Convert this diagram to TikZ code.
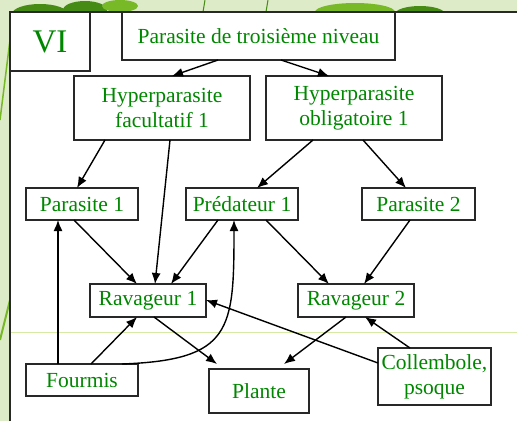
\documentclass[tikz,border=0pt]{standalone}
\usepackage{fontspec}
\setmainfont{Liberation Serif}
\usetikzlibrary{arrows.meta}
\definecolor{txtgreen}{RGB}{0,135,0}
\definecolor{bgpale}{RGB}{222,235,200}
\definecolor{leafdark}{RGB}{70,140,20}
\definecolor{leaflight}{RGB}{120,185,40}
\definecolor{boxline}{RGB}{40,40,40}
\definecolor{faintline}{RGB}{215,234,165}
\tikzset{
  box/.style={draw=boxline, line width=1.5pt, fill=white, inner sep=0pt, outer sep=0pt,
    text=txtgreen, align=center, font=\fontsize{21.5}{25}\selectfont},
  arr/.style={-{Latex[length=11pt,width=9pt]}, line width=1.4pt, black},
}
\begin{document}
\begin{tikzpicture}[x=1pt,y=-1pt]
\useasboundingbox (0,0) rectangle (517,421);
% background
\fill[bgpale] (0,0) rectangle (517,421);
\begin{scope}
\clip (0,0) rectangle (517,12) (0,0) rectangle (10,421);
\fill[leafdark] (40,14) ellipse (28 and 10);
\fill[leafdark] (85,10) ellipse (22 and 9);
\fill[leaflight] (120,6) ellipse (18 and 6);
\fill[leaflight] (355,12) ellipse (40 and 9);
\fill[leafdark] (420,14) ellipse (25 and 8);
\draw[leaflight, line width=2pt] (10,300) -- (0,340);
\draw[leaflight, line width=1.5pt] (10,40) -- (0,120);
\draw[leafdark, line width=1pt] (205,0) -- (203,12);
\draw[leafdark, line width=1pt] (268,0) -- (266,12);
\end{scope}
\fill[white] (10,12) rectangle (517,421);
\draw[faintline, line width=0.8pt] (10,332) -- (517,332);
\draw[boxline, line width=1.5pt] (10,421) -- (10,12) -- (517,12);
% nodes
\node[box, minimum width=80pt, minimum height=59pt, font=\fontsize{33}{36}\selectfont] (vi) at (50,41.5) {VI};
\node[box, minimum width=273pt, minimum height=48pt] (top) at (258.5,36) {Parasite de troisième niveau};
\node[box, minimum width=176pt, minimum height=64pt] (hf) at (162,108) {Hyperparasite\\facultatif 1};
\node[box, minimum width=176pt, minimum height=64pt] (ho) at (354,108) {Hyperparasite\\obligatoire 1};
\node[box, minimum width=112pt, minimum height=32pt] (p1) at (82,204) {Parasite 1};
\node[box, minimum width=112pt, minimum height=32pt] (pr1) at (242,204) {Prédateur 1};
\node[box, minimum width=113pt, minimum height=32pt] (p2) at (418.5,204) {Parasite 2};
\node[box, minimum width=116pt, minimum height=33pt] (r1) at (148,300.5) {Ravageur 1};
\node[box, minimum width=116pt, minimum height=33pt] (r2) at (356,300.5) {Ravageur 2};
\node[box, minimum width=112pt, minimum height=32pt] (fo) at (82,380) {Fourmis};
\node[box, minimum width=100pt, minimum height=44pt] (pl) at (259,391) {Plante};
\node[box, minimum width=113pt, minimum height=57pt] (co) at (434.5,376.5) {Collembole,\\psoque};
% arrows
\draw[arr] ([xshift=-40.5pt]top.south) -- ([xshift=10pt]hf.north);
\draw[arr] ([xshift=22.5pt]top.south) -- ([xshift=-25pt]ho.north);
\draw[arr] ([xshift=-57pt]hf.south) -- ([xshift=-5pt]p1.north);
\draw[arr] ([xshift=8pt]hf.south) -- ([xshift=7pt]r1.north);
\draw[arr] ([xshift=-41pt]ho.south) -- ([xshift=15pt]pr1.north);
\draw[arr] ([xshift=9pt]ho.south) -- ([xshift=-12.5pt]p2.north);
\draw[arr] ([xshift=-8pt]p1.south) -- ([xshift=-11pt]r1.north);
\draw[arr] ([xshift=-24pt]pr1.south) -- ([xshift=23pt]r1.north);
\draw[arr] ([xshift=24pt]pr1.south) -- ([xshift=-27pt]r2.north);
\draw[arr] ([xshift=-8.5pt]p2.south) -- ([xshift=8pt]r2.north);
\draw[arr] ([xshift=6pt]r1.south) -- ([xshift=-42pt,yshift=5pt]pl.north);
\draw[arr] ([xshift=-10pt]r2.south) -- ([xshift=25pt,yshift=5pt]pl.north);
\draw[arr] ([yshift=13.5pt]co.west) -- ([yshift=0.5pt]r1.east);
\draw[arr] ([xshift=-24.5pt]co.north) -- ([xshift=9pt]r2.south);
\draw[arr] ([xshift=-24pt]fo.north) -- ([xshift=-24pt]p1.south);
\draw[arr] ([xshift=9pt]fo.north) -- ([xshift=-11pt]r1.south);
\draw[arr] ([xshift=40pt]fo.north) .. controls (232,360) and (234,330) .. ([xshift=-8pt]pr1.south);
\end{tikzpicture}
\end{document}
